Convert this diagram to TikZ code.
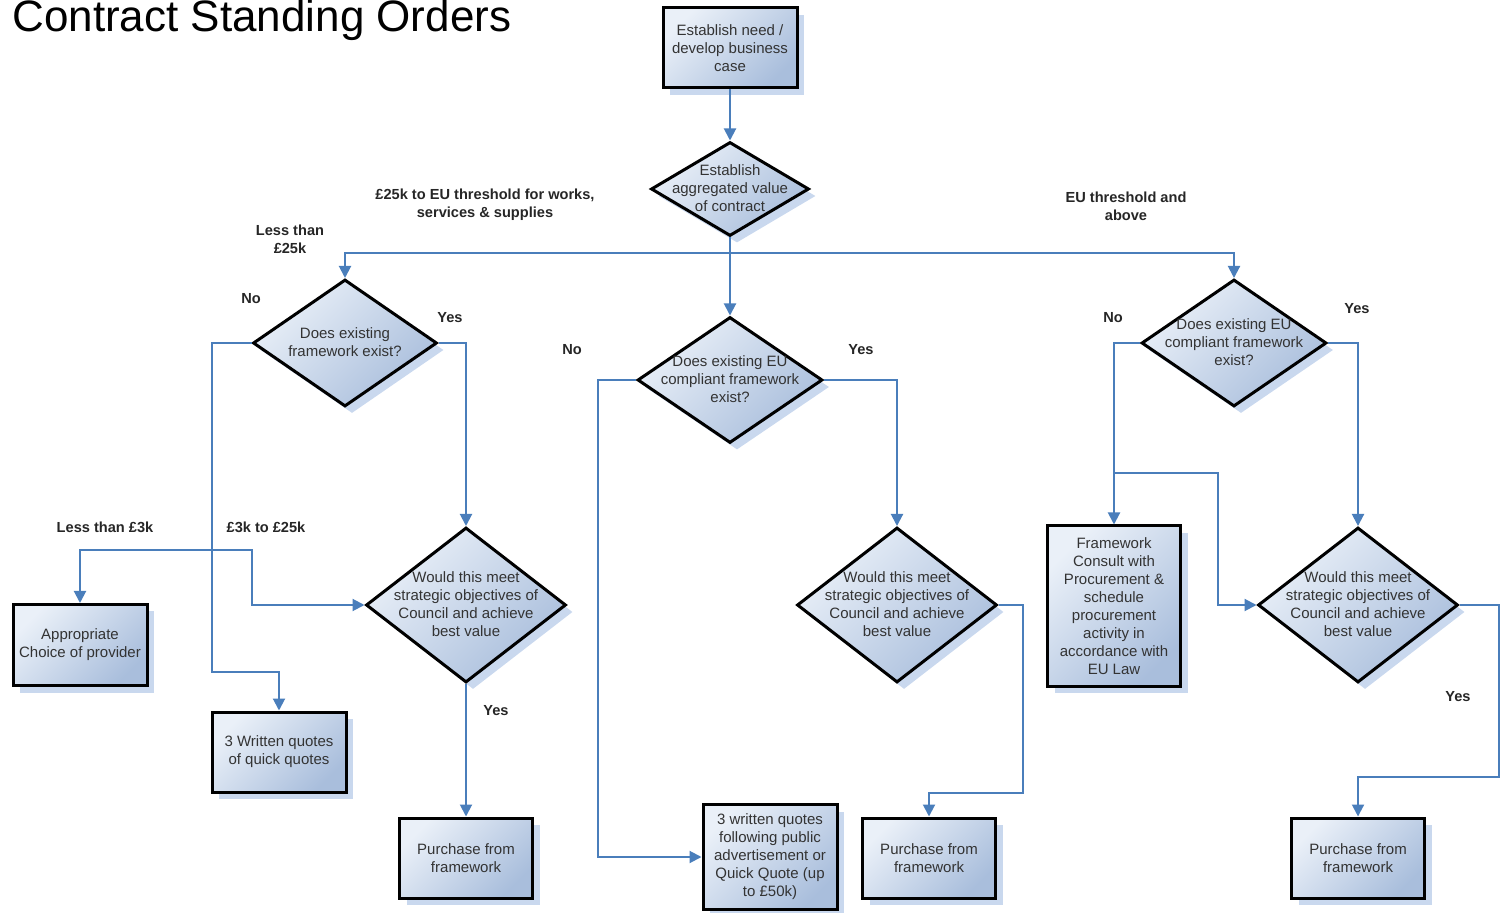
\documentclass[tikz,border=0pt]{standalone}
\usepackage{fontspec}
\setmainfont{Liberation Sans}
\usetikzlibrary{shapes.geometric,shadows,arrows.meta}
\definecolor{boxlight}{HTML}{EAF0F8}
\definecolor{boxdark}{HTML}{A9BEDC}
\definecolor{shadowblue}{HTML}{C9D8EE}
\definecolor{linkblue}{HTML}{4A7EBB}
\definecolor{txtgray}{HTML}{333333}
\newcommand\bxfont{\fontsize{7.5}{9}\selectfont}
\newcommand\lbfont{\fontsize{7.3}{9}\selectfont\bfseries}
\newcommand\dtx[1]{\smash{\makebox[0pt]{\raisebox{-2pt}{\begin{tabular}{@{}c@{}}#1\end{tabular}}}}}
\tikzset{
  flow/.style={draw=black, line width=1.5pt, top color=boxlight, bottom color=boxdark, shading angle=45,
    general shadow={fill=shadowblue, shadow xshift=3.5pt, shadow yshift=-3.5pt}, text=txtgray},
  procbox/.style={flow, rectangle, inner sep=0pt, align=center, font=\bxfont},
  decision/.style={flow, diamond, inner sep=0pt, font=\bxfont},
  conn/.style={draw=linkblue, line width=1pt, -{Triangle[length=6pt,width=6pt]}},
  plain/.style={draw=linkblue, line width=1pt},
  lbl/.style={font=\lbfont, align=center, inner sep=0pt, text=black!85},
}
\begin{document}
\begin{tikzpicture}[x=0.5pt,y=-0.5pt]
\useasboundingbox (0,0) rectangle (1503,913);
\node[anchor=base west, inner sep=0pt, font=\fontsize{22}{26}\selectfont] (title) at (12,32) {Contract Standing Orders};

% nodes
\node[procbox, minimum width=67pt, minimum height=40pt] (need) at (730,48) {Establish need /\\develop business\\case};
\node[decision, minimum width=79pt, minimum height=47pt] (agg) at (730,189) {\dtx{Establish\\aggregated value\\of contract}};
\node[decision, minimum width=92pt, minimum height=63.5pt] (d1) at (345,343) {\dtx{Does existing\\framework exist?}};
\node[decision, minimum width=92.5pt, minimum height=63pt] (d2) at (730,380) {\dtx{Does existing EU\\compliant framework\\exist?}};
\node[decision, minimum width=92.5pt, minimum height=63.5pt] (d3) at (1234,343) {\dtx{Does existing EU\\compliant framework\\exist?}};
\node[decision, minimum width=100pt, minimum height=77.5pt] (w1) at (466,605) {\dtx{Would this meet\\strategic objectives of\\Council and achieve\\best value}};
\node[decision, minimum width=100pt, minimum height=77.5pt] (w2) at (897,605) {\dtx{Would this meet\\strategic objectives of\\Council and achieve\\best value}};
\node[decision, minimum width=100pt, minimum height=77.5pt] (w3) at (1358,605) {\dtx{Would this meet\\strategic objectives of\\Council and achieve\\best value}};
\node[procbox, minimum width=67pt, minimum height=40.5pt] (app) at (80,645) {Appropriate\\Choice of provider};
\node[procbox, minimum width=67pt, minimum height=40pt] (wq) at (279,752) {3 Written quotes\\of quick quotes};
\node[procbox, minimum width=66.5pt, minimum height=40pt] (p1) at (466,858) {Purchase from\\framework};
\node[procbox, minimum width=67pt, minimum height=52.5pt] (quotes) at (770,857) {3 written quotes\\following public\\advertisement or\\Quick Quote (up\\to £50k)};
\node[procbox, minimum width=66.5pt, minimum height=40pt] (p2) at (929,858) {Purchase from\\framework};
\node[procbox, minimum width=66.5pt, minimum height=80pt] (fw) at (1114,606) {Framework\\Consult with\\Procurement \&\\schedule\\procurement\\activity in\\accordance with\\EU Law};
\node[procbox, minimum width=66.5pt, minimum height=40pt] (p3) at (1358,858) {Purchase from\\framework};

% junction coordinates
\coordinate (hub) at (730,253);
\coordinate (j1) at (212,550);
\coordinate (j3) at (1114,473);

% connectors
\draw[conn] (need) -- (agg);
\draw[plain] (agg.south) -- (hub);
\draw[conn] (hub) -- (d2.north);
\draw[conn] (hub) -| (d1.north);
\draw[conn] (hub) -| (d3.north);
\draw[conn] (d1.east) -| (w1.north);
\draw[conn] (d1.west) -| (212,672) -| (wq.north);
\draw[conn] (j1) -| (app.north);
\draw[conn] (j1) -| (252,605) -- (w1.west);
\draw[conn] (w1.south) -- (p1.north);
\draw[conn] (d2.west) -| (598,857) -- (quotes.west);
\draw[conn] (d2.east) -| (w2.north);
\draw[conn] (w2.east) -| (1023,793) -| (p2.north);
\draw[conn] (d3.west) -| (fw.north);
\draw[conn] (j3) -| (1218,605) -- (w3.west);
\draw[conn] (d3.east) -| (w3.north);
\draw[conn] (w3.east) -| (1499,777) -| (p3.north);

% labels
\node[lbl] (l1) at (290,239) {Less than\\£25k};
\node[lbl] (l2) at (485,205) {£25k to EU threshold for works,\\services \& supplies};
\node[lbl] (l3) at (1126,206) {EU threshold and\\above};
\node[lbl] (l4) at (251,299) {No};
\node[lbl] (l5) at (450,318) {Yes};
\node[lbl] (l6) at (572,350) {No};
\node[lbl] (l7) at (861,350) {Yes};
\node[lbl] (l8) at (1113,318) {No};
\node[lbl] (l9) at (1357,309) {Yes};
\node[lbl] (l10) at (105,527) {Less than £3k};
\node[lbl] (l11) at (266,527) {£3k to £25k};
\node[lbl] (l12) at (496,711) {Yes};
\node[lbl] (l13) at (1458,697) {Yes};
\end{tikzpicture}
\end{document}
